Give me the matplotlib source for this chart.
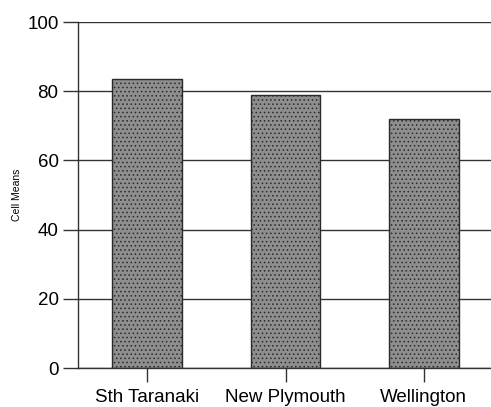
import matplotlib
matplotlib.use("Agg")
import matplotlib.pyplot as plt

# 数据
regions = ["Sth Taranaki", "New Plymouth", "Wellington"]
cell_means = [83.5, 78.9, 71.9]
y_ticks = [0, 20, 40, 60, 80, 100]

plt.rcParams["font.family"] = ["Liberation Sans", "DejaVu Sans"]
plt.rcParams["hatch.color"] = "#6e6e6e"
plt.rcParams["hatch.linewidth"] = 0.6

fig = plt.figure(figsize=(4.91, 4.07), dpi=100)
ax = fig.add_axes([0.159, 0.0958, 0.845, 0.85])

ax.set_axisbelow(True)
ax.yaxis.grid(True, color="#333333", linewidth=1.0)
ax.bar(range(len(regions)), cell_means, width=0.505, color="#8e8e8e",
       edgecolor="#2a2a2a", linewidth=1.0, hatch="....")

ax.set_xlim(-0.5, 2.5)
ax.set_ylim(0, 100)
ax.set_yticks(y_ticks)
ax.set_xticks(range(len(regions)))
ax.set_xticklabels(regions)
ax.set_ylabel("Cell Means", fontsize=7.5, labelpad=3.5)

ax.spines["top"].set_visible(False)
ax.spines["right"].set_visible(False)
for s in ["left", "bottom"]:
    ax.spines[s].set_color("#333333")
    ax.spines[s].set_linewidth(1.0)
ax.tick_params(axis="y", length=11, width=1.0, color="#333333", labelsize=13.5, pad=3)
ax.tick_params(axis="x", length=10, width=1.0, color="#333333", labelsize=13.5, pad=5)

plt.savefig("out.png", dpi=100)
